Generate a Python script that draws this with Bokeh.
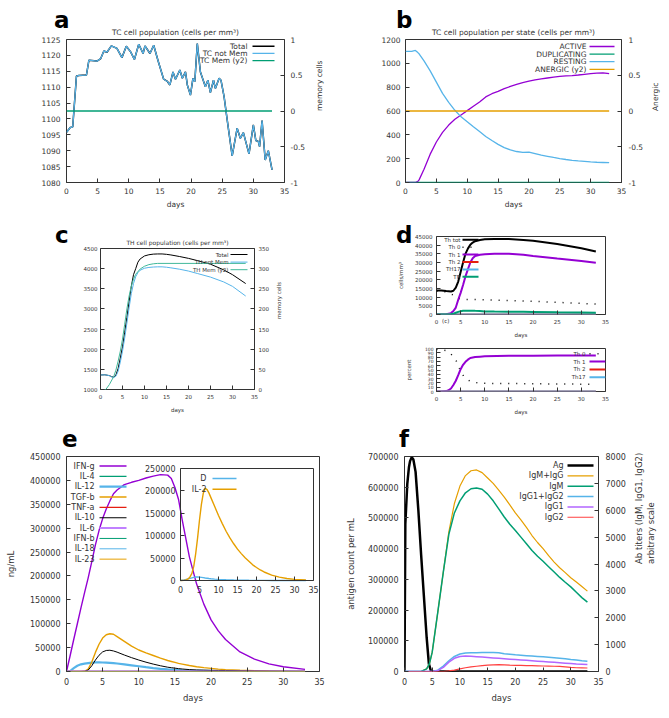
import math
from bokeh.plotting import figure
from bokeh.models import (Range1d, LinearAxis, Label, Arrow, Div,
                          PrintfTickFormatter, FixedTicker)
from bokeh.layouts import column, row
from bokeh.embed import file_html
from bokeh.resources import INLINE

# ---------------- data ----------------
X_TICKS = [0, 5, 10, 15, 20, 25, 30, 35]

# (a) TC cell population
tc_days = [0, 0.6, 1.0, 1.6, 2.0, 3.2, 3.6, 4.9, 5.5, 6.0, 6.5, 7.2, 8.1, 8.9, 9.6, 10.3, 10.9,
           11.6, 12.3, 12.6, 13.4, 14.0, 14.7, 15.6, 16.2, 16.6, 17.1, 17.5, 18.2, 18.6, 19.1,
           19.4, 19.9, 20.3, 20.6, 21.0, 21.5, 22.3, 22.7, 23.1, 23.6, 23.9, 24.5, 24.8, 25.3,
           25.8, 26.6, 27.4, 27.9, 28.4, 29.3, 30.0, 30.4, 30.8, 31.0, 31.4, 31.9, 32.4, 33.0]
tc_total = [1095.8, 1097.3, 1097.5, 1113.5, 1113.7, 1113.8, 1118.5, 1118.2, 1119.0, 1121.4, 1121.0,
            1123.0, 1122.2, 1119.3, 1122.9, 1121.1, 1118.7, 1123.5, 1120.6, 1123.0, 1120.6, 1123.2,
            1118.3, 1112.5, 1111.8, 1110.7, 1114.8, 1112.5, 1115.4, 1112.8, 1114.8, 1110.7, 1107.5,
            1112.8, 1111.7, 1123.7, 1114.8, 1110.1, 1112.2, 1108.3, 1112.2, 1109.6, 1112.8, 1112.2,
            1107.0, 1099.7, 1088.4, 1097.1, 1093.9, 1095.7, 1089.0, 1098.1, 1093.2, 1092.9, 1091.3,
            1099.5, 1087.1, 1090.0, 1084.0]
tc_notmem = [1095.8, 1097.3, 1097.5, 1113.5, 1113.7, 1113.8, 1118.5, 1118.2, 1119.0, 1121.4, 1121.0,
             1123.0, 1122.2, 1119.3, 1122.9, 1121.1, 1118.7, 1123.5, 1120.6, 1123.0, 1120.6, 1123.2,
             1118.3, 1112.5, 1111.8, 1110.7, 1114.8, 1112.5, 1115.4, 1112.8, 1114.8, 1110.7, 1107.5,
             1112.8, 1111.7, 1123.7, 1114.8, 1110.1, 1112.2, 1108.3, 1112.2, 1109.6, 1112.8, 1112.2,
             1107.0, 1099.7, 1088.4, 1097.1, 1093.9, 1095.7, 1089.0, 1098.1, 1093.2, 1092.9, 1091.3,
             1099.5, 1087.1, 1090.0, 1084.0]
tc_mem_days = [0, 33]
tc_mem = [0, 0]
a_yticks = [1080, 1085, 1090, 1095, 1100, 1105, 1110, 1115, 1120, 1125]
a_y2ticks = [-1, -0.5, 0, 0.5, 1]

# (b) TC cell population per state
st_days = [0, 1, 1.6, 2, 2.2, 3, 4, 5, 6, 7, 8, 9, 10, 11, 12, 13, 14, 15, 16, 17, 18, 19, 20,
           21, 22, 23, 24, 25, 26, 27, 28, 29, 30, 31, 32, 33]
st_active = [0, 0, 0, 10, 22, 112, 238, 340, 420, 482, 530, 567, 603, 640, 676, 718, 745, 764, 788,
             806, 823, 839, 851, 862, 870, 877, 884, 890, 894, 897, 902, 908, 914, 918, 920, 913]
st_resting = [1100, 1100, 1108, 1090, 1080, 1020, 937, 842, 748, 673, 606, 551, 510, 467, 428, 386,
              352, 320, 293, 274, 260, 253, 255, 243, 229, 220, 210, 201, 193, 186, 181, 177, 173,
              170, 168, 166]
st_zero_days = [0, 33]
st_dup = [0, 0]
st_anergic = [0, 0]
b_yticks = [0, 200, 400, 600, 800, 1000, 1200]

# (c) TH cell population
th_days = [0, 1, 2, 2.5, 3, 3.5, 4, 4.5, 5, 5.5, 6, 6.5, 7, 7.5, 8, 8.5, 9, 10, 11, 12, 13, 14,
           15, 16, 18, 20, 22, 25, 28, 30, 33]
th_total = [1360, 1365, 1345, 1320, 1305, 1360, 1520, 1780, 2060, 2420, 2790, 3180, 3560, 3850, 4000,
            4160, 4240, 4315, 4345, 4360, 4365, 4365, 4355, 4340, 4300, 4255, 4200, 4110, 3970, 3850,
            3630]
th_notmem = [1360, 1365, 1345, 1315, 1295, 1330, 1450, 1680, 1950, 2280, 2650, 3030, 3380, 3630, 3800,
             3900, 3960, 4010, 4030, 4040, 4045, 4045, 4035, 4020, 3985, 3940, 3880, 3790, 3670, 3560,
             3320]
thm_days = [0, 1.2, 2, 3, 3.5, 4, 4.5, 5, 5.5, 6, 6.5, 7, 7.5, 8, 9, 10, 11, 12, 13, 33]
th_mem = [0, 0, 12, 32, 48, 70, 95, 125, 162, 200, 232, 257, 274, 286, 299, 306, 310, 312, 313, 313]
c_yticks = [1000, 1500, 2000, 2500, 3000, 3500, 4000, 4500]
c_y2ticks = [0, 50, 100, 150, 200, 250, 300, 350]

# (d) TH subsets
ths_days = [0, 1, 2, 3, 3.5, 4, 4.5, 5, 5.5, 6, 6.5, 7, 7.5, 8, 9, 10, 12, 15, 18, 20, 25, 30, 33]
th_tot = [13900, 13850, 13500, 13300, 13700, 15500, 19000, 24500, 30000, 35000, 38000, 40300, 41500,
          42300, 43000, 43400, 43600, 43500, 43000, 42500, 40700, 38200, 36300]
th0 = [13500, 13400, 13000, 12000, 11000, 10000, 9300, 8900, 8800, 8700, 8700, 8650, 8600, 8600, 8550,
       8500, 8350, 8100, 7800, 7600, 7000, 6400, 6000]
th1 = [0, 0, 100, 800, 2000, 4000, 8500, 12500, 17000, 22000, 26000, 30000, 32500, 33800, 34500,
       34800, 35000, 35100, 34500, 33800, 32300, 30900, 29900]
th_tr = [0, 0, 50, 200, 500, 1000, 1500, 1900, 2100, 2200, 2200, 2200, 2150, 2100, 2050, 1800, 1700,
         1600, 1550, 1500, 1300, 1150, 1000]
ths_zero_days = [0, 33]
th2 = [0, 0]
th17 = [0, 0]
d_yticks = [0, 5000, 10000, 15000, 20000, 25000, 30000, 35000, 40000, 45000]

pct_days = [0, 1, 2, 2.5, 3, 3.5, 4, 4.5, 5, 5.5, 6, 6.5, 7, 8, 9, 10, 15, 20, 25, 30, 33]
th1_pct = [0, 0, 1, 3, 7, 15, 25, 38, 52, 62, 69, 74, 78, 80, 81, 82, 83, 83, 84, 84, 84]
th0_pct = [98, 97, 95, 92, 87, 80, 73, 62, 46, 38, 31, 27, 24, 21, 19.5, 19, 18.5, 18, 17.5, 17, 17]
th2_pct = [0, 0]
th17_pct = [0, 0]
pct_ticks = [0, 10, 20, 30, 40, 50, 60, 70, 80, 90, 100]

# (e) cytokines
cy_days = [0, 0.5, 1, 1.5, 2, 2.5, 3, 3.5, 4, 4.5, 5, 5.5, 6, 6.5, 7, 8, 9, 10, 11, 12, 13, 14,
           14.5, 15, 15.5, 16, 17, 18, 19, 20, 21, 22, 24, 26, 28, 30, 33]
ifn_g = [0, 33000, 67000, 100000, 133000, 165000, 196000, 230000, 265000, 295000, 320000, 340000,
         357000, 372000, 380000, 391000, 396000, 400000, 405000, 409000, 412000, 411000, 404000,
         385000, 360000, 318000, 240000, 183000, 141000, 108000, 85000, 67000, 41000, 26000, 16000,
         10000, 4500]
tgf_b = [0, 0, 0, 0, 0, 500, 5000, 20000, 40000, 57000, 70000, 77000, 79000, 78000, 73000, 63000,
         53000, 45000, 39000, 33500, 28000, 23000, 21000, 19000, 17000, 15500, 12500, 10000, 8000,
         6500, 5000, 4000, 2500, 1500, 900, 500, 200]
il_10 = [0, 0, 0, 0, 0, 300, 3000, 12000, 24000, 34000, 41000, 44000, 44500, 43000, 40500, 34500,
         29000, 24000, 19500, 15500, 12000, 9000, 8000, 7000, 6000, 5200, 4000, 3200, 2800, 2500,
         2200, 2000, 1500, 1100, 700, 400, 200]
il_12 = [0, 1000, 7000, 12000, 15000, 16500, 17500, 18500, 19000, 19000, 18800, 18400, 18000, 17500,
         16800, 15000, 13000, 11000, 9000, 7200, 5600, 4300, 3800, 3300, 2900, 2500, 1900, 1400,
         1100, 800, 600, 450, 250, 150, 100, 60, 30]
cy_zero_days = [0, 33]
il_4 = [0, 0]
tnf_a = [0, 0]
il_6 = [0, 0]
ifn_b = [0, 0]
il_18 = [0, 0]
il_23 = [0, 0]
e_yticks = [0, 50000, 100000, 150000, 200000, 250000, 300000, 350000, 400000, 450000]

il2_days = [0, 1, 1.5, 2, 2.5, 3, 3.5, 4, 4.5, 5, 5.5, 6, 6.5, 7, 7.5, 8, 9, 10, 11, 12, 13, 14, 15,
            16, 17, 18, 19, 20, 21, 22, 24, 26, 28, 30, 33]
il_2 = [0, 500, 1500, 3500, 8000, 16000, 32000, 60000, 95000, 135000, 170000, 195000, 206000, 203000,
        195000, 185000, 165000, 145000, 127000, 110000, 95000, 82000, 70000, 60000, 51000, 43000,
        35000, 29000, 23500, 19000, 12000, 7500, 4500, 2500, 1000]
d_cyt = [0, 1500, 2500, 3500, 4800, 6000, 7000, 7800, 8000, 7600, 7000, 6300, 5600, 5000, 4400, 3900,
         3100, 2500, 2000, 1600, 1300, 1000, 800, 650, 500, 400, 330, 270, 220, 180, 120, 80, 60, 40,
         30]
inset_x_lim = (0, 35)
inset_y_lim = (0, 250000)
inset_yticks = [0, 50000, 100000, 150000, 200000, 250000]

# (f) antigen and antibodies
ag_days = [0, 0.15, 0.5, 0.8, 1.0, 1.3, 1.6, 2.0, 2.5, 3.0, 3.5, 4.0, 4.4, 4.8, 33]
ag = [0, 480000, 610000, 665000, 685000, 698000, 690000, 650000, 525000, 380000, 245000, 110000,
      25000, 0, 0]
ab_days = [0, 3, 4, 4.5, 5, 6, 7, 8, 9, 10, 11, 12, 13, 14, 15, 16, 17, 18, 19, 20, 21, 22, 23, 24,
           25, 26, 27, 28, 29, 30, 31, 32, 33]
igm_igg = [0, 0, 100, 290, 720, 2200, 3700, 5200, 6250, 6900, 7290, 7470, 7500, 7400, 7200, 7000,
           6750, 6490, 6200, 5900, 5640, 5360, 5060, 4800, 4570, 4310, 4070, 3860, 3680, 3490, 3330,
           3160, 2990]
igm = [0, 0, 100, 290, 720, 2200, 3700, 5100, 5900, 6350, 6650, 6800, 6830, 6780, 6600, 6350, 6050,
       5750, 5480, 5250, 5000, 4750, 4500, 4290, 4100, 3900, 3700, 3500, 3320, 3150, 2950, 2750, 2580]
igg1_igg2 = [0, 0, 0, 0, 0, 50, 200, 400, 560, 650, 690, 700, 700, 705, 705, 705, 700, 660, 640, 620,
             605, 590, 575, 560, 545, 530, 510, 490, 470, 445, 425, 400, 380]
igg1 = [0, 0, 0, 0, 0, 30, 150, 350, 490, 560, 575, 565, 550, 535, 520, 505, 490, 475, 460, 445, 430,
        415, 400, 385, 370, 355, 340, 325, 310, 295, 280, 270, 260]
igg2 = [0, 0, 0, 0, 0, 0, 0, 20, 50, 100, 140, 170, 195, 215, 235, 250, 255, 245, 235, 230, 225, 220,
        215, 210, 205, 200, 195, 190, 170, 150, 140, 135, 130]
f_yticks = [0, 100000, 200000, 300000, 400000, 500000, 600000, 700000]
f_y2ticks = [0, 1000, 2000, 3000, 4000, 5000, 6000, 7000, 8000]

# ---------------- style ----------------
FONT = "DejaVu Sans"
TXT = "#333333"
PURPLE = "#9400d3"
GREEN = "#009e73"
BLUE = "#56b4e9"
ORANGE = "#e69f00"
RED = "#e51e10"
LPURPLE = "#b266ff"
BLACK = "#000000"


def base_fig(w, h, l, r, t, b, xr, yr):
    p = figure(width=w, height=h, x_range=xr, y_range=yr, output_backend="svg",
               toolbar_location=None, min_border_left=l, min_border_right=r,
               min_border_top=t, min_border_bottom=b)
    p.xgrid.visible = False
    p.ygrid.visible = False
    p.outline_line_color = "#333333"
    p.outline_line_width = 1
    return p


def style_axis(ax, fs, ticks, standoff=5, label_fs=None, label_standoff=3):
    ax.major_tick_in = 4
    ax.major_tick_out = 0
    ax.minor_tick_line_color = None
    ax.axis_line_color = None
    ax.major_tick_line_color = "#333333"
    ax.major_label_text_font = FONT
    ax.major_label_text_font_size = f"{fs}px"
    ax.major_label_text_color = TXT
    ax.major_label_standoff = standoff
    ax.axis_label_text_font = FONT
    ax.axis_label_text_font_size = f"{label_fs or fs}px"
    ax.axis_label_text_font_style = "normal"
    ax.axis_label_text_color = TXT
    ax.axis_label_standoff = label_standoff
    ax.formatter = PrintfTickFormatter(format="%g")
    ax.ticker = FixedTicker(ticks=ticks)


def set_title(p, text, fs, standoff):
    p.title.text = text
    p.title.align = "center"
    p.title.text_font = FONT
    p.title.text_font_size = f"{fs}px"
    p.title.text_font_style = "normal"
    p.title.text_color = TXT
    p.title.standoff = standoff


def add_legend(p, entries, fs, text_right, s0, s1, y0, dy, fl, fb):
    """gnuplot-style key: right-aligned label followed by a line sample (page pixel layout)."""
    for i, (lab, r) in enumerate(entries):
        yc = fb - (y0 + i * dy)
        g = r.glyph
        p.add_layout(Label(x=text_right - fl, y=yc, x_units="screen", y_units="screen", text=lab,
                           text_align="right", text_baseline="middle", text_font=FONT,
                           text_font_size=f"{fs}px", text_color=TXT))
        p.add_layout(Arrow(end=None, x_start=s0 - fl, y_start=yc, x_end=s1 - fl, y_end=yc,
                           start_units="screen", end_units="screen", line_color=g.line_color,
                           line_width=g.line_width, line_dash=g.line_dash))


def letter_div(txt, left, baseline, size=23):
    top = baseline - 0.846 * size
    return Div(text=txt, styles={"position": "absolute", "left": f"{left}px", "top": f"{top:.1f}px",
                                 "font-family": FONT, "font-size": f"{size}px", "font-weight": "bold",
                                 "line-height": f"{size}px", "color": "#000000", "margin": "0",
                                 "padding": "0", "z-index": "10"})


def small_div(txt, left, baseline, size):
    top = baseline - 0.846 * size
    return Div(text=txt, styles={"position": "absolute", "left": f"{left}px", "top": f"{top:.1f}px",
                                 "font-family": FONT, "font-size": f"{size}px",
                                 "line-height": f"{size}px", "color": TXT, "margin": "0",
                                 "padding": "0", "z-index": "10"})


# ---------------- panel a ----------------
pa = base_fig(335, 215, 66, 51, 39, 32, Range1d(0, 35), Range1d(1080, 1125))
pa.extra_y_ranges = {"y2": Range1d(-1, 1)}
ra1 = pa.line(tc_days, tc_total, line_color=BLACK, line_width=1.5)
ra2 = pa.line(tc_days, tc_notmem, line_color=BLUE, line_width=1.3)
ra3 = pa.line(tc_mem_days, tc_mem, line_color=GREEN, line_width=1.3, y_range_name="y2")
pa.add_layout(LinearAxis(y_range_name="y2", axis_label="memory cells"), "right")
style_axis(pa.xaxis[0], 7.5, X_TICKS, standoff=5)
pa.xaxis[0].axis_label = "days"
style_axis(pa.yaxis[0], 7.5, a_yticks, standoff=6)
style_axis(pa.yaxis[1], 7.5, a_y2ticks, standoff=6, label_standoff=11)
pa.yaxis[1].axis_label_orientation = math.pi / 2
set_title(pa, "TC cell population (cells per mm³)", 7.5, 5)
add_legend(pa, [("Total", ra1), ("TC not Mem", ra2), ("TC Mem (y2)", ra3)], 7.5, 247, 252, 274,
           46.7, 7.2, 66, 183)

# ---------------- panel b ----------------
pb = base_fig(334, 215, 70, 48, 39, 33, Range1d(0, 35), Range1d(0, 1200))
pb.extra_y_ranges = {"y2": Range1d(-1, 1)}
rb1 = pb.line(st_days, st_active, line_color=PURPLE, line_width=1.3)
rb2 = pb.line(st_zero_days, st_dup, line_color=GREEN, line_width=1.3)
rb3 = pb.line(st_days, st_resting, line_color=BLUE, line_width=1.3)
rb4 = pb.line(st_zero_days, st_anergic, line_color=ORANGE, line_width=1.3, y_range_name="y2")
pb.add_layout(LinearAxis(y_range_name="y2", axis_label="Anergic"), "right")
style_axis(pb.xaxis[0], 7.5, X_TICKS, standoff=5)
pb.xaxis[0].axis_label = "days"
style_axis(pb.yaxis[0], 7.5, b_yticks, standoff=5)
style_axis(pb.yaxis[1], 7.5, a_y2ticks, standoff=7, label_standoff=9)
pb.yaxis[1].axis_label_orientation = math.pi / 2
set_title(pb, "TC cell population per state (cells per mm³)", 7.5, 5)
add_legend(pb, [("ACTIVE", rb1), ("DUPLICATING", rb2), ("RESTING", rb3), ("ANERGIC (y2)", rb4)],
           7.5, 586, 589, 614, 46, 7.6, 405, 182)

# ---------------- panel c ----------------
pc = base_fig(335, 225, 100, 81, 33, 51, Range1d(0, 35), Range1d(1000, 4500))
pc.extra_y_ranges = {"y2": Range1d(0, 350)}
rc1 = pc.line(th_days, th_total, line_color=BLACK, line_width=1)
rc2 = pc.line(th_days, th_notmem, line_color=BLUE, line_width=1)
rc3 = pc.line(thm_days, th_mem, line_color="#40b89a", line_width=1, y_range_name="y2")
pc.add_layout(LinearAxis(y_range_name="y2", axis_label="memory cells"), "right")
style_axis(pc.xaxis[0], 5.5, X_TICKS, standoff=4, label_standoff=5)
pc.xaxis[0].axis_label = "days"
style_axis(pc.yaxis[0], 5.5, c_yticks, standoff=3)
style_axis(pc.yaxis[1], 5.5, c_y2ticks, standoff=4, label_standoff=7)
pc.yaxis[1].axis_label_orientation = math.pi / 2
set_title(pc, "TH cell population (cells per mm³)", 6, 6)
add_legend(pc, [("Total", rc1), ("TH not Mem", rc2), ("TH Mem (y2)", rc3)], 5.5, 228, 230, 247,
           254, 7.6, 100, 389)

# ---------------- panel d (top) ----------------
pd1 = base_fig(334, 125, 101, 64, 21, 23, Range1d(0, 35), Range1d(0, 45000))
rd1 = pd1.line(ths_days, th_tot, line_color=BLACK, line_width=2)
rd2 = pd1.line(ths_days, th0, line_color=BLACK, line_width=1.5, line_dash="1 7")
rd3 = pd1.line(ths_days, th1, line_color=PURPLE, line_width=2)
rd4 = pd1.line(ths_zero_days, th2, line_color=RED, line_width=2)
rd5 = pd1.line(ths_zero_days, th17, line_color=BLUE, line_width=2)
rd6 = pd1.line(ths_days, th_tr, line_color=GREEN, line_width=2)
style_axis(pd1.xaxis[0], 5.5, X_TICKS, standoff=4, label_standoff=5)
pd1.xaxis[0].axis_label = "days"
style_axis(pd1.yaxis[0], 5.5, d_yticks, standoff=4, label_standoff=8)
pd1.yaxis[0].axis_label = "cells/mm³"
add_legend(pd1, [("Th tot", rd1), ("Th 0", rd2), ("Th 1", rd3), ("Th 2", rd4), ("TH17", rd5),
                 ("TR", rd6)], 5.5, 460, 462, 478, 242.3, 7.4, 436, 317)

# ---------------- panel d (bottom) ----------------
pd2 = base_fig(334, 100, 94, 64, 8, 49, Range1d(0, 35), Range1d(0, 100))
re1 = pd2.line(pct_days, th0_pct, line_color=BLACK, line_width=1.5, line_dash="1 7")
re2 = pd2.line(pct_days, th1_pct, line_color=PURPLE, line_width=2)
re3 = pd2.line(ths_zero_days, th2_pct, line_color=RED, line_width=2)
re4 = pd2.line(ths_zero_days, th17_pct, line_color=BLUE, line_width=2)
style_axis(pd2.xaxis[0], 5.5, X_TICKS, standoff=4, label_standoff=5)
pd2.xaxis[0].axis_label = "days"
style_axis(pd2.yaxis[0], 4.5, pct_ticks, standoff=3, label_fs=5.5, label_standoff=10)
pd2.yaxis[0].axis_label = "percent"
add_legend(pd2, [("Th 0", re1), ("Th 1", re2), ("Th 2", re3), ("Th17", re4)], 5.5, 578, 582, 598,
           353.3, 7.8, 429, 391)

# ---------------- panel e ----------------
pe = base_fig(335, 278, 66, 16, 16, 47, Range1d(0, 35), Range1d(0, 450000))
FL, FR, FT, FB = 66, 319, 456, 671          # main frame (page pixels)
IL, IR, IT, IB = 180, 313, 468, 580         # inset frame (page pixels)
ppx = (IR - IL) / (inset_x_lim[1] - inset_x_lim[0])
ppy = (IB - IT) / (inset_y_lim[1] - inset_y_lim[0])
pe.extra_x_ranges = {"ix": Range1d(inset_x_lim[0] - (IL - FL) / ppx, inset_x_lim[1] + (FR - IR) / ppx)}
pe.extra_y_ranges = {"iy": Range1d(inset_y_lim[0] - (FB - IB) / ppy, inset_y_lim[1] + (IT - FT) / ppy)}

e_series = [("IFN-g", ifn_g, cy_days, PURPLE, 1.4), ("IL-4", il_4, cy_zero_days, GREEN, 1.4),
            ("IL-12", il_12, cy_days, BLUE, 2.2), ("TGF-b", tgf_b, cy_days, ORANGE, 1.4),
            ("TNF-a", tnf_a, cy_zero_days, RED, 1.4), ("IL-10", il_10, cy_days, BLACK, 1),
            ("IL-6", il_6, cy_zero_days, "#c080ff", 2), ("IFN-b", ifn_b, cy_zero_days, GREEN, 1),
            ("IL-18", il_18, cy_zero_days, BLUE, 1), ("IL-23", il_23, cy_zero_days, ORANGE, 1)]
e_entries = []
for name, ys, xs, col, lw in e_series:
    r = pe.line(xs, ys, line_color=col, line_width=lw)
    e_entries.append((name, r))
ri1 = pe.line(il2_days, d_cyt, line_color=BLUE, line_width=1.4, x_range_name="ix", y_range_name="iy")
ri2 = pe.line(il2_days, il_2, line_color=ORANGE, line_width=1.4, x_range_name="ix", y_range_name="iy")
pe.quad(left=[inset_x_lim[0]], right=[inset_x_lim[1]], bottom=[inset_y_lim[0]], top=[inset_y_lim[1]],
        x_range_name="ix", y_range_name="iy", fill_color=None, line_color="#333333", line_width=1)
ix_ax = LinearAxis(x_range_name="ix", y_range_name="iy", fixed_location=0, bounds=inset_x_lim)
iy_ax = LinearAxis(x_range_name="ix", y_range_name="iy", fixed_location=0, bounds=inset_y_lim)
pe.add_layout(ix_ax, "below")
pe.add_layout(iy_ax, "left")
style_axis(ix_ax, 8, X_TICKS, standoff=5)
style_axis(iy_ax, 8, inset_yticks, standoff=5)
style_axis(pe.xaxis[0], 8, X_TICKS, standoff=6, label_fs=8.5, label_standoff=5)
pe.xaxis[0].axis_label = "days"
style_axis(pe.yaxis[0], 8, e_yticks, standoff=6, label_fs=8.5, label_standoff=11)
pe.yaxis[0].axis_label = "ng/mL"
add_legend(pe, e_entries, 8, 94, 99, 126, 465.5, 10.35, FL, FB)
add_legend(pe, [("D", ri1), ("IL-2", ri2)], 8, 206, 212, 236, 478, 10.7, FL, FB)

# ---------------- panel f ----------------
pf = base_fig(334, 278, 69, 65, 16, 47, Range1d(0, 35), Range1d(0, 700000))
pf.extra_y_ranges = {"y2": Range1d(0, 8000)}
rf1 = pf.line(ag_days, ag, line_color=BLACK, line_width=2.5)
rf2 = pf.line(ab_days, igm_igg, line_color=ORANGE, line_width=1.2, y_range_name="y2")
rf3 = pf.line(ab_days, igm, line_color=GREEN, line_width=1.5, y_range_name="y2")
rf4 = pf.line(ab_days, igg1_igg2, line_color=BLUE, line_width=1.5, y_range_name="y2")
rf5 = pf.line(ab_days, igg1, line_color=LPURPLE, line_width=1.5, y_range_name="y2")
rf6 = pf.line(ab_days, igg2, line_color="#ff4040", line_width=1.2, y_range_name="y2")
pf.add_layout(LinearAxis(y_range_name="y2", axis_label="Ab titers (IgM, IgG1, IgG2)\narbitrary scale"),
              "right")
style_axis(pf.xaxis[0], 8, X_TICKS, standoff=6, label_fs=8.5, label_standoff=5)
pf.xaxis[0].axis_label = "days"
style_axis(pf.yaxis[0], 8, f_yticks, standoff=6, label_fs=8.5, label_standoff=9)
pf.yaxis[0].axis_label = "antigen count per mL"
style_axis(pf.yaxis[1], 8, f_y2ticks, standoff=7, label_fs=8.5, label_standoff=16)
pf.yaxis[1].axis_label_orientation = math.pi / 2
add_legend(pf, [("Ag", rf1), ("IgM+IgG", rf2), ("IgM", rf3), ("IgG1+IgG2", rf4), ("IgG1", rf5),
                ("IgG2", rf6)], 8, 563, 567, 593, 465, 10.35, 404, 671)

# ---------------- panel letters (page pixels) ----------------
letters = [letter_div("a", 54, 28), letter_div("b", 396, 28), letter_div("c", 55, 243),
           letter_div("d", 396, 243), letter_div("e", 62, 447), letter_div("f", 399, 447),
           small_div("(c)", 442, 323.5, 5.5)]

layout = column(row(pa, pb), row(pc, column(pd1, pd2)), row(pe, pf), *letters,
                styles={"position": "relative"})
open("out.html", "w").write(file_html(layout, INLINE))
